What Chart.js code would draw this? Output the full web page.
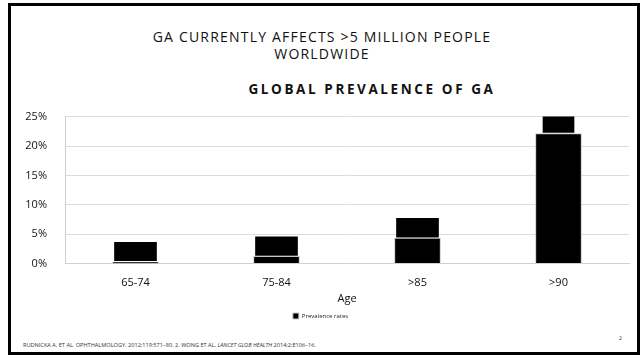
<!DOCTYPE html>
<html>
<head>
<meta charset="utf-8">
<script src="https://cdn.jsdelivr.net/npm/chart.js@4"></script>
<style>
  body { margin: 0; background: #fff; font-family: "Open Sans", sans-serif; }
  #frame { position: absolute; left: 8px; top: 3px; width: 626px; height: 346px; border: 3px solid #000; }
  .txt { position: absolute; color: #111; white-space: nowrap; }
  #title1 { left: 0; width: 644px; top: 28px; text-align: center; font-size: 14px; line-height: 17px; letter-spacing: 1.2px; }
  #ctitle { left: 372px; top: 80px; transform: translateX(-50%); font-size: 13.5px; font-weight: bold; letter-spacing: 2.6px; }
  #foot { left: 23px; top: 341px; font-size: 5.6px; color: #333; }
  #page { left: 619px; top: 335px; font-size: 5px; color: #333; }
  #wrap { position: absolute; left: 12px; top: 92px; width: 626px; height: 239px; }
</style>
</head>
<body>
<div id="frame"></div>
<div class="txt" id="title1">GA CURRENTLY AFFECTS &gt;5 MILLION PEOPLE<br>WORLDWIDE</div>
<div class="txt" id="ctitle">GLOBAL PREVALENCE OF GA</div>
<div class="txt" id="foot">RUDNICKA A, ET AL. OPHTHALMOLOGY. 2012;119:571–80. 2. WONG ET AL, <i>LANCET GLOB HEALTH</i> 2014;2:E106–16.</div>
<div class="txt" id="page">2</div>
<div id="wrap"><canvas id="chart"></canvas></div>
<script>
// age groups
const ageGroups = ['65-74', '75-84', '>85', '>90'];
// prevalence (%), lower wide bars
const prevalence = [0.25, 1.25, 4.35, 22.1];
// upper floating blocks [from, to] (%)
const upperBlocks = [[0.5, 3.6], [1.4, 4.55], [4.5, 7.7], null];
const upperBlock90 = [null, null, null, [22.3, 25.2]];
const yTicks = [0, 5, 10, 15, 20, 25];

const ctx = document.getElementById('chart').getContext('2d');
const font = 'Open Sans';

new Chart(ctx, {
    type: 'bar',
    data: {
        labels: ageGroups,
        datasets: [
            {
                label: 'Prevalence rates',
                data: prevalence,
                backgroundColor: '#000',
                borderColor: '#c8c8c8',
                borderWidth: 1,
                barThickness: 46,
                grouped: false,
                order: 1
            },
            {
                label: 'upper',
                data: upperBlocks,
                backgroundColor: '#000',
                borderWidth: 0,
                barThickness: 42,
                grouped: false,
                order: 2
            },
            {
                label: 'upper90',
                data: upperBlock90,
                backgroundColor: '#000',
                borderWidth: 0,
                barThickness: 31,
                grouped: false,
                order: 2
            }
        ]
    },
    options: {
        responsive: true,
        maintainAspectRatio: false,
        animation: false,
        layout: { padding: { top: 13, right: 9, bottom: 2, left: 0 } },
        plugins: {
            tooltip: { enabled: false },
            legend: {
                position: 'bottom',
                labels: {
                    filter: item => item.datasetIndex === 0,
                    boxWidth: 6,
                    boxHeight: 6,
                    padding: 6,
                    color: '#222',
                    font: { family: font, size: 6 }
                }
            }
        },
        scales: {
            x: {
                grid: { display: false, drawTicks: false },
                border: { color: '#d0d0d0', width: 1 },
                ticks: { color: '#111', padding: 13, font: { family: font, size: 11 } },
                title: { display: true, text: 'Age', color: '#111', padding: { top: -11, bottom: 2 }, font: { family: font, size: 11 } }
            },
            y: {
                min: 0,
                max: 25,
                afterBuildTicks: axis => { axis.ticks = yTicks.map(v => ({ value: v })); },
                afterFit: axis => { axis.width = 53; },
                grid: { color: '#dcdcdc', drawTicks: false },
                border: { color: '#d0d0d0' },
                ticks: {
                    color: '#111',
                    padding: 18,
                    font: { family: font, size: 11 },
                    callback: v => v + '%'
                }
            }
        }
    }
});
</script>
</body>
</html>
